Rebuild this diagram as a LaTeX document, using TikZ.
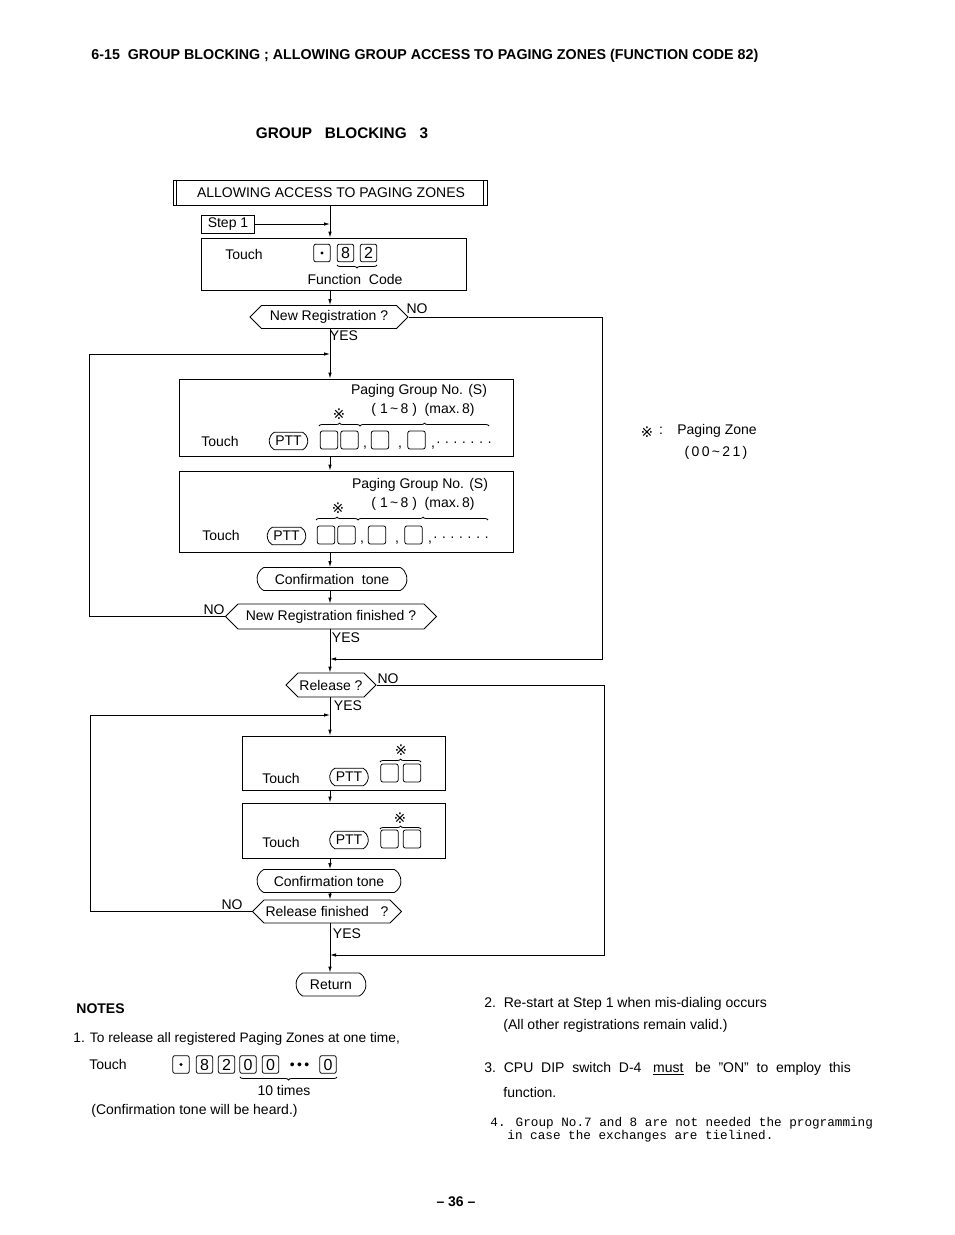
\documentclass[tikz,border=0pt]{standalone}
\usepackage{fontspec}
\setmainfont{Liberation Sans}
\newfontfamily\symfont{DejaVu Sans}
\newfontfamily\typefont{Liberation Mono}
\usetikzlibrary{arrows.meta, shapes.symbols, shapes.misc, fit, decorations.pathreplacing}

\newcommand{\refmark}{{\symfont\fontsize{11}{11}\selectfont ※}}
\newcommand{\rng}{(\ 1\,\textasciitilde\,8\ )\ \ (max.\,8)}

\tikzset{
  txt/.style={font=\fontsize{10.5}{12}\selectfont, inner sep=0pt},
  frame/.style={draw, inner sep=0pt},
  hexa/.style={draw, signal, signal to=east and west, signal pointer angle=90,
    minimum height=17.25pt, inner sep=0pt, font=\fontsize{10.5}{12}\selectfont},
  tone/.style={draw, rounded rectangle, rounded rectangle arc length=120,
    minimum height=17.25pt, inner sep=0pt, font=\fontsize{10.5}{12}\selectfont},
  keycap/.style={draw, rounded corners=1.5pt, minimum width=12.25pt, minimum height=13.25pt,
    inner sep=0pt, font=\fontsize{12}{12}\selectfont},
  slot/.style={draw, rounded corners=1.5pt, minimum width=13pt, minimum height=13.5pt, inner sep=0pt},
  ptt/.style={draw, rounded rectangle, rounded rectangle arc length=120,
    minimum width=29pt, minimum height=13pt, inner sep=0pt, font=\fontsize{10.5}{10}\selectfont},
  flow/.style={-{Latex[length=4.5pt,width=2.6pt]}},
  ovbrace/.style={decorate, decoration={brace, amplitude=2.2pt}},
  unbrace/.style={decorate, decoration={brace, mirror, amplitude=2.2pt}},
}

\begin{document}
\begin{tikzpicture}[x=0.75pt, y=-0.75pt, line width=0.6pt]
  \useasboundingbox (0,0) rectangle (954,1235);
  \coordinate (axis) at (330,0);

  % --- headings ---
  \node[txt, anchor=west, font=\bfseries\fontsize{10.7}{12}\selectfont] (hdr) at (91,56)
    {6-15\ \ GROUP BLOCKING ; ALLOWING GROUP ACCESS TO PAGING ZONES (FUNCTION CODE 82)};
  \node[txt, font=\bfseries\fontsize{11.5}{13}\selectfont] (sub) at (342,133)
    {GROUP\ \ \ BLOCKING\ \ \ 3};

  % --- title and step 1 ---
  \node[frame, fit={(173,180) (487,205)}] (ttl) {};
  \node[txt] (ttltx) at (331,193) {ALLOWING ACCESS TO PAGING ZONES};
  \draw ([xshift=3pt]ttl.north west) -- ([xshift=3pt]ttl.south west);
  \draw ([xshift=-3pt]ttl.north east) -- ([xshift=-3pt]ttl.south east);
  \node[frame, fit={(201,215) (254,233)}] (stp) {};
  \node[txt] (stptx) at (228,224) {Step 1};

  % --- function code ---
  \node[frame, fit={(201,238) (466,290)}] (b1) {};
  \node[txt] (tc1) at (244,254) {Touch};
  \node[keycap] (k1) at (322,253) {};
  \fill (k1.center) circle (1.2pt);
  \node[keycap] (k2) at (345.5,253) {8};
  \node[keycap] (k3) at (368.5,253) {2};
  \draw[unbrace] (337,265) -- (377,265);
  \node[txt] (fc1) at (355,279) {Function\ \ Code};

  \node[hexa, minimum width=118.5pt] (hx1) at (329,317) {New Registration ?};
  \node[txt] (no1) at (417,309) {NO};
  \node[txt] (yes1) at (344,336) {YES};

  % --- paging group, first ---
  \node[frame, fit={(179,379) (513,456)}] (b2) {};
  \node[txt] (pg2) at (419,391) {Paging Group No. (S)};
  \node[txt] (rg2) at (423,410) {\rng};
  \node[txt] (zm2) at (339,414) {\refmark};
  \draw[ovbrace] (319,426) -- (360,426);
  \draw[ovbrace] (360,426) -- (489,426);
  \node[txt] (tc2) at (220,441) {Touch};
  \node[ptt] (pt2) at (288.5,441) {PTT};
  \foreach \x [count=\i] in {329,349.5,380,416.5}
    \node[slot] (sa\i) at (\x,440) {};
  \foreach \x [count=\i] in {365,400,433}
    \node[txt, anchor=base] (ca\i) at (\x,447) {,};
  \node[txt, anchor=base] (da) at (464,446) {· · · · · · ·};

  % --- paging group, second ---
  \node[frame, fit={(179,471) (513,552)}] (b3) {};
  \node[txt] (pg3) at (420,485) {Paging Group No. (S)};
  \node[txt] (rg3) at (423,504) {\rng};
  \node[txt] (zm3) at (338,508) {\refmark};
  \draw[ovbrace] (316,520) -- (358,520);
  \draw[ovbrace] (358,520) -- (488,520);
  \node[txt] (tc3) at (221,535) {Touch};
  \node[ptt] (pt3) at (286.5,536) {PTT};
  \foreach \x [count=\i] in {326,346.5,377,413.5}
    \node[slot] (sb\i) at (\x,535) {};
  \foreach \x [count=\i] in {362,397,430}
    \node[txt, anchor=base] (cb\i) at (\x,542) {,};
  \node[txt, anchor=base] (db) at (461,541) {· · · · · · ·};

  \node[tone, minimum width=112.5pt] (cf1) at (332,579) {Confirmation\ \ tone};
  \node[hexa, minimum width=158.25pt, minimum height=18.75pt] (hx2) at (331,616.5) {New Registration finished ?};
  \node[txt] (no2) at (214,610) {NO};
  \node[txt] (yes2) at (346,638) {YES};

  % --- release ---
  \node[hexa, minimum width=67.5pt, minimum height=18pt] (hx3) at (331,685) {Release ?};
  \node[txt] (no3) at (388,679) {NO};
  \node[txt] (yes3) at (348,706) {YES};

  \node[frame, fit={(242,736) (445,790)}] (b4) {};
  \node[txt] (zm4) at (401,750) {\refmark};
  \draw[ovbrace] (380,762) -- (421,762);
  \node[txt] (tc4) at (281,778) {Touch};
  \node[ptt] (pt4) at (349,777) {PTT};
  \node[slot] (sc1) at (389.5,773) {};
  \node[slot] (sc2) at (412,773) {};

  \node[frame, fit={(242,803) (445,858)}] (b5) {};
  \node[txt] (zm5) at (400,818) {\refmark};
  \draw[ovbrace] (380,829) -- (421,829);
  \node[txt] (tc5) at (281,842) {Touch};
  \node[ptt] (pt5) at (349,840) {PTT};
  \node[slot] (sd1) at (389.5,839) {};
  \node[slot] (sd2) at (412,839) {};

  \node[tone, minimum width=108pt] (cf2) at (329,881) {Confirmation tone};
  \node[hexa, minimum width=111.75pt] (hx4) at (327,911.5) {Release finished\ \ \ ?};
  \node[txt] (no4) at (232,905) {NO};
  \node[txt] (yes4) at (347,934) {YES};
  \node[tone, minimum width=52.5pt] (ret) at (331,984.5) {Return};

  % --- main line ---
  \draw[flow] (ttl.south -| axis) -- (b1.north -| axis);
  \draw[flow] (stp.east) -- (stp.east -| axis);
  \draw[flow] (b1.south -| axis) -- (hx1.north -| axis);
  \draw[flow] (hx1.south -| axis) -- (b2.north -| axis);
  \draw[flow] (b2.south -| axis) -- (b3.north -| axis);
  \draw[flow] (b3.south -| axis) -- (cf1.north -| axis);
  \draw[flow] (cf1.south -| axis) -- (hx2.north -| axis);
  \draw[flow] (hx2.south -| axis) -- (hx3.north -| axis);
  \draw[flow] (hx3.south -| axis) -- (b4.north -| axis);
  \draw[flow] (b4.south -| axis) -- (b5.north -| axis);
  \draw[flow] (b5.south -| axis) -- (cf2.north -| axis);
  \draw[flow] (cf2.south -| axis) -- (hx4.north -| axis);
  \draw[flow] (hx4.south -| axis) -- (ret.north -| axis);

  % --- loops ---
  \coordinate (j1) at (330,354);
  \coordinate (c1) at (89,354);
  \draw[flow] (hx2.west) -| (c1) -- (j1);
  \coordinate (j2) at (330,659);
  \coordinate (c2) at (602,659);
  \draw[flow] (hx1.east) -| (c2) -- (j2);
  \coordinate (j3) at (330,715);
  \coordinate (c3) at (90,715);
  \draw[flow] (hx4.west) -| (c3) -- (j3);
  \coordinate (j4) at (330,955);
  \coordinate (c4) at (604,955);
  \draw[flow] (hx3.east) -| (c4) -- (j4);

  % --- zone note ---
  \node[txt] (zmk) at (647,432) {\refmark};
  \node[txt] (zcl) at (661,431) {:};
  \node[txt] (zn1) at (717,431) {Paging Zone};
  \node[txt] (zn2) at (716,453) {(\,0\,0\,\textasciitilde\,2\,1\,)};

  % --- notes ---
  \node[txt, anchor=west, font=\bfseries\fontsize{10.5}{12}\selectfont] (nts) at (76,1009) {NOTES};
  \node[txt, anchor=west, font=\fontsize{10.3}{12}\selectfont] (n1) at (73,1039) {1. To release all registered Paging Zones at one time,};
  \node[txt, anchor=west] (n1t) at (89,1064) {Touch};
  \node[keycap] (m1) at (181,1064.5) {};
  \fill (m1.center) circle (1.2pt);
  \node[keycap] (m2) at (204.5,1064.5) {8};
  \node[keycap] (m3) at (226.5,1064.5) {2};
  \node[keycap] (m4) at (248,1064.5) {0};
  \node[keycap] (m5) at (270.5,1064.5) {0};
  \node[txt, anchor=base] (md) at (299.5,1069) {\textbullet\,\textbullet\,\textbullet};
  \node[keycap] (m6) at (328,1064.5) {0};
  \draw[unbrace] (240,1077) -- (337,1077);
  \node[txt] (n1x) at (284,1090) {10 times};
  \node[txt, anchor=west] (n1c) at (91,1111) {(Confirmation tone will be heard.)};

  \node[txt, anchor=west] (n2) at (484,1004) {2.\ \ Re-start at Step 1 when mis-dialing occurs};
  \node[txt, anchor=west] (n2b) at (503,1026) {(All other registrations remain valid.)};
  \node[txt, anchor=west] (n3) at (484,1069)
    {3.\ \ CPU\ \ DIP\ \ switch\ \ D-4\ \ \ \underline{must}\ \ \ be\ \ "ON"\ \ to\ \ employ\ \ this};
  \node[txt, anchor=west] (n3b) at (503,1092) {function.};
  \node[txt, anchor=west, font=\typefont\fontsize{9.5}{11}\selectfont] (n4) at (490,1123)
    {4. Group No.7 and 8 are not needed the programming};
  \node[txt, anchor=west, font=\typefont\fontsize{9.5}{11}\selectfont] (n4b) at (507,1136)
    {in case the exchanges are tielined.};

  \node[txt, font=\bfseries\fontsize{10.5}{12}\selectfont] (pgno) at (456,1202) {-- 36 --};
\end{tikzpicture}
\end{document}
